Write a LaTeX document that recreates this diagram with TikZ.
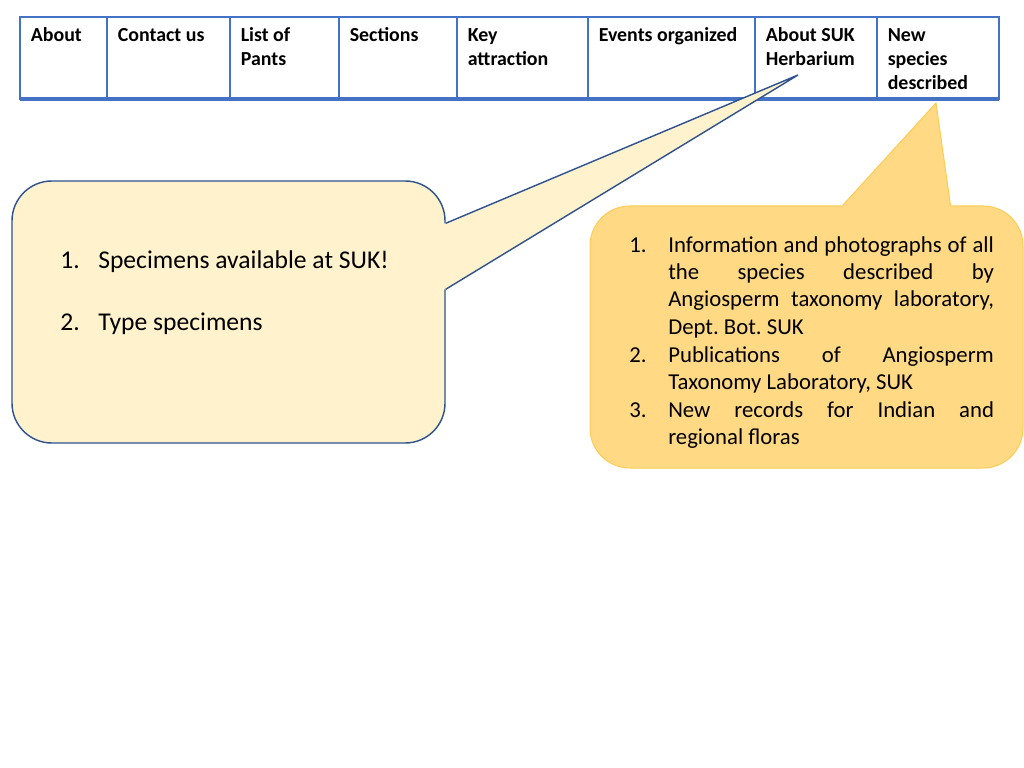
\documentclass[tikz,border=0pt]{standalone}
\usepackage{fontspec}
\setmainfont{Carlito}
\usetikzlibrary{positioning,calc}
\definecolor{gridBlue}{HTML}{4472C4}
\definecolor{noteBorder}{HTML}{2F528F}
\definecolor{noteFill}{HTML}{FFF2CC}
\definecolor{goldFill}{HTML}{FFD983}
\definecolor{goldBorder}{HTML}{FFCB55}
\hbadness=10000
\frenchspacing

\begin{document}
\begin{tikzpicture}[
  x=0.703125pt, y=-0.703125pt,
  gridline/.style={draw=gridBlue, line width=1pt},
  headtext/.style={
    anchor=north west, inner sep=0pt, align=left,
    font=\fontsize{14}{17}\selectfont\bfseries
  },
  notebox/.style={
    rectangle, rounded corners=28pt, minimum width=304.45pt,
    minimum height=184.22pt, inner sep=0pt
  },
  bigitem/.style={
    anchor=north west, inner sep=0pt, align=left,
    font=\fontsize{18}{21.6}\selectfont
  },
  smallitem/.style={
    anchor=north west, inner sep=0pt, text width=229pt, align=justify,
    font=\fontsize{16}{19.2}\selectfont
  },
  smallnum/.style={
    anchor=north west, inner sep=0pt, font=\fontsize{16}{19.2}\selectfont
  },
]
\useasboundingbox (0,0) rectangle (1024,768);

% menu bar
\draw[gridline] (20,17) rectangle (999,99);
\foreach \cx in {107,230,339,457,588,755,877}
  \draw[gridline] (\cx,17) -- (\cx,99);
\draw[gridline, line width=2.2pt] (20,99) -- (999,99);

\foreach \cx/\cname/\ctext in {
    20/hdAbout/About,
    107/hdContact/Contact us,
    230/hdPlants/{List of\\Pants},
    339/hdSections/Sections,
    457/hdKey/{Key\\attraction},
    588/hdEvents/Events organized,
    755/hdHerb/{About SUK\\Herbarium},
    877/hdSpecies/{New\\species\\described}}
  \node[headtext] (\cname) at (\cx+10.5,24) {\strut\ctext};

% callout for the herbarium tab
\coordinate (herbTip) at (798,75);
\node[notebox, draw=noteBorder, line width=1pt, fill=noteFill] (leftNote)
  at (228.5,312) {};
\fill[noteFill] ($(leftNote.north east)+(-2,43)$) -- ($(leftNote.north east)+(0,43)$)
  -- (herbTip) -- ($(leftNote.north east)+(0,109)$)
  -- ($(leftNote.north east)+(-2,109)$) -- cycle;
\draw[noteBorder, line width=1pt] ($(leftNote.north east)+(0,43)$) -- (herbTip)
  -- ($(leftNote.north east)+(0,109)$);

\node[bigitem] (specimens) at (98,246.5) {\strut Specimens available at SUK!};
\node[bigitem, below right=21.6pt and 0pt of specimens.south west] (typeSpec)
  {\strut Type specimens};
\node[bigitem] at ($(specimens.north west)+(-38,0)$) {\strut 1.};
\node[bigitem] at ($(typeSpec.north west)+(-38,0)$) {\strut 2.};

% callout for the new species tab
\coordinate (speciesTip) at (936,103);
\node[notebox, draw=goldBorder, line width=0.7pt, fill=goldFill] (rightNote)
  at (806.5,337) {};
\fill[goldFill] ($(rightNote.north west)+(253,2)$) -- ($(rightNote.north west)+(253,0)$)
  -- (speciesTip) -- ($(rightNote.north west)+(361,0)$)
  -- ($(rightNote.north west)+(361,2)$) -- cycle;
\draw[goldBorder, line width=0.7pt] ($(rightNote.north west)+(253,0)$) -- (speciesTip)
  -- ($(rightNote.north west)+(361,0)$);

\node[smallitem] (info) at (668,232.9)
  {\strut Information and photographs of all\linebreak the species described by\linebreak
   Angiosperm taxonomy laboratory,\linebreak Dept. Bot. SUK\strut};
\node[smallitem, below=0pt of info] (pubs)
  {\strut Publications of Angiosperm\linebreak Taxonomy Laboratory, SUK\strut};
\node[smallitem, below=0pt of pubs] (records)
  {\strut New records for Indian and\linebreak regional floras\strut};
\node[smallnum] at ($(info.north west)+(-39,0)$) {\strut 1.};
\node[smallnum] at ($(pubs.north west)+(-39,0)$) {\strut 2.};
\node[smallnum] at ($(records.north west)+(-39,0)$) {\strut 3.};

\end{tikzpicture}
\end{document}
